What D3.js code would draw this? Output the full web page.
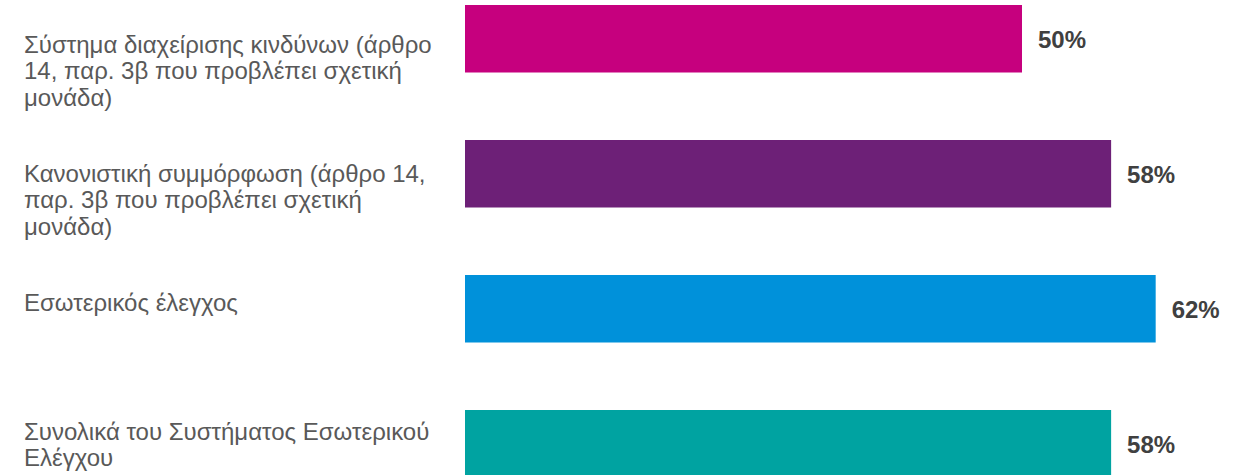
<!DOCTYPE html>
<html>
<head>
<meta charset="utf-8">
<script src="https://cdn.jsdelivr.net/npm/d3@7/dist/d3.min.js"></script>
<style>
  html, body { margin: 0; padding: 0; background: #ffffff; }
  svg { display: block; }
</style>
</head>
<body>
<svg id="chart" width="1251" height="475"></svg>
<script>
const categories = [
  "Σύστημα διαχείρισης κινδύνων (άρθρο\n14, παρ. 3β που προβλέπει σχετική\nμονάδα)",
  "Κανονιστική συμμόρφωση (άρθρο 14,\nπαρ. 3β που προβλέπει σχετική\nμονάδα)",
  "Εσωτερικός έλεγχος",
  "Συνολικά του Συστήματος Εσωτερικού\nΕλέγχου"
];
const values = [50, 58, 62, 58];
const colors = ["#C6007E", "#6D2077", "#0091DA", "#00A3A1"];

const svg = d3.select("#chart");
const font = "'Liberation Sans', Arial, Helvetica, sans-serif";

const y = d3.scaleBand().domain(categories).range([5, 477.5]).paddingInner(0.5).paddingOuter(0);
const yLabel = d3.scalePoint().domain(categories).range([52.5, 439.5]);
const x = d3.scaleLinear().domain([0, 100]).range([465, 1579]);

svg.selectAll("rect.bar")
  .data(categories)
  .join("rect")
  .attr("class", "bar")
  .attr("x", x(0))
  .attr("y", d => y(d))
  .attr("width", (d, i) => x(values[i]) - x(0))
  .attr("height", y.bandwidth())
  .attr("fill", (d, i) => colors[i]);

svg.selectAll("text.val")
  .data(categories)
  .join("text")
  .attr("class", "val")
  .attr("x", (d, i) => x(values[i]) + 16)
  .attr("y", d => y(d) + y.bandwidth() / 2 + 9)
  .attr("font-family", font)
  .attr("font-size", 24)
  .attr("font-weight", "bold")
  .attr("fill", "#404040")
  .text((d, i) => values[i] + "%");

const lineH = 26.7;
const lbl = svg.selectAll("text.cat")
  .data(categories)
  .join("text")
  .attr("class", "cat")
  .attr("x", 24)
  .attr("y", d => yLabel(d))
  .attr("font-family", font)
  .attr("font-size", 24)
  .attr("fill", "#595959");

lbl.each(function(d) {
  const t = d3.select(this);
  d.split("\n").forEach((line, k) => {
    t.append("tspan").attr("x", 24).attr("y", yLabel(d) + k * lineH).text(line);
  });
});
</script>
</body>
</html>
